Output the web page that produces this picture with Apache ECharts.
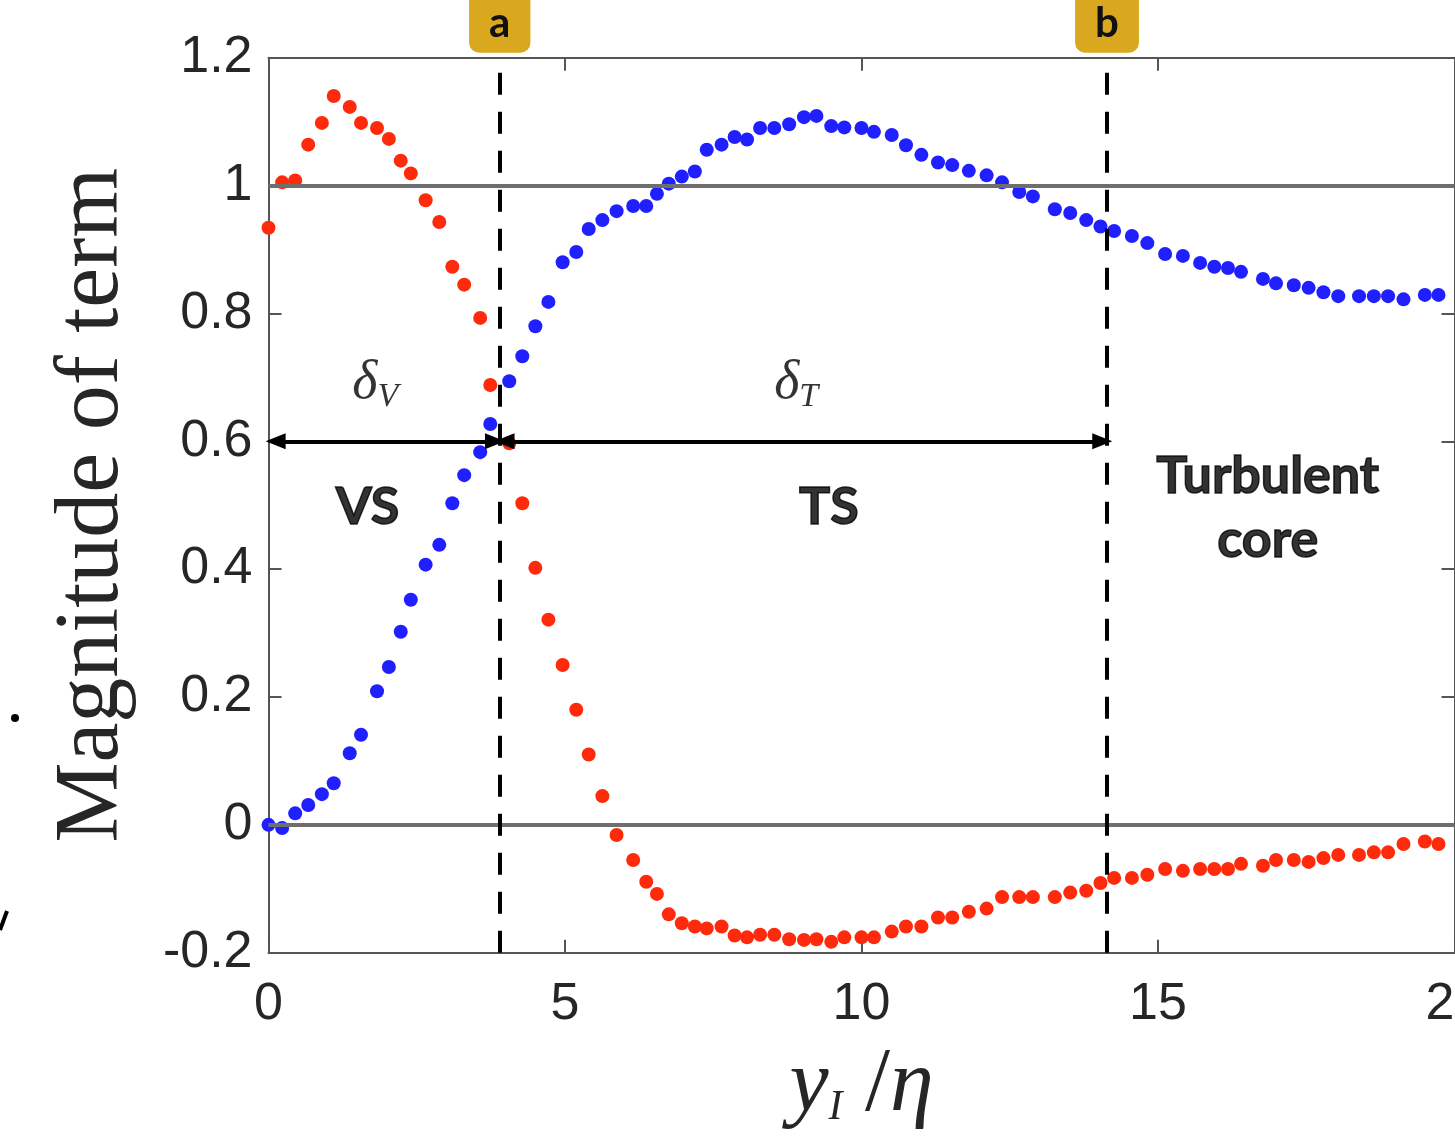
<!DOCTYPE html>
<html>
<head>
<meta charset="utf-8">
<title>Magnitude of term</title>
<script src="https://cdn.jsdelivr.net/npm/echarts@6/dist/echarts.min.js"></script>
<style>
  html, body { margin: 0; padding: 0; background: #fff; }
  #chart { width: 1455px; height: 1140px; }
</style>
</head>
<body>
<div id="chart"></div>
<script>
// sample positions y_I / eta (shared by both series)
const yPos = [0.00, 0.23, 0.45, 0.67, 0.90, 1.10, 1.37, 1.56, 1.83, 2.03,
  2.23, 2.40, 2.65, 2.88, 3.10, 3.30, 3.57, 3.74, 4.06, 4.28,
  4.50, 4.72, 4.96, 5.19, 5.40, 5.63, 5.87, 6.15, 6.37, 6.55,
  6.75, 6.97, 7.19, 7.39, 7.64, 7.86, 8.07, 8.29, 8.53, 8.78,
  9.03, 9.24, 9.49, 9.71, 10.00, 10.21, 10.51, 10.75, 11.01, 11.29,
  11.53, 11.81, 12.11, 12.37, 12.66, 12.89, 13.26, 13.52, 13.79, 14.03,
  14.26, 14.56, 14.82, 15.12, 15.42, 15.71, 15.95, 16.18, 16.40, 16.77,
  16.99, 17.29, 17.54, 17.79, 18.04, 18.39, 18.64, 18.88, 19.14, 19.50, 19.73]

// blue dots
const blueTerm = [0.00, -0.005, 0.018, 0.031, 0.048, 0.065, 0.112, 0.141, 0.209, 0.247,
  0.302, 0.352, 0.407, 0.438, 0.503, 0.547, 0.583, 0.627, 0.694, 0.733,
  0.780, 0.818, 0.880, 0.896, 0.932, 0.946, 0.960, 0.968, 0.968, 0.987,
  1.003, 1.014, 1.022, 1.056, 1.064, 1.076, 1.072, 1.090, 1.090, 1.096,
  1.107, 1.109, 1.093, 1.091, 1.090, 1.084, 1.079, 1.063, 1.048, 1.036,
  1.032, 1.023, 1.016, 1.005, 0.990, 0.983, 0.963, 0.957, 0.946, 0.936,
  0.929, 0.921, 0.910, 0.893, 0.890, 0.879, 0.873, 0.871, 0.865, 0.854,
  0.847, 0.844, 0.840, 0.833, 0.827, 0.827, 0.827, 0.827, 0.822, 0.829, 0.829]

// red dots
const redTerm = [0.934, 1.005, 1.008, 1.064, 1.098, 1.140, 1.123, 1.098, 1.090, 1.073,
  1.039, 1.019, 0.977, 0.943, 0.873, 0.845, 0.793, 0.688, 0.597, 0.503,
  0.402, 0.321, 0.250, 0.180, 0.110, 0.045, -0.016, -0.055, -0.089, -0.108,
  -0.140, -0.154, -0.159, -0.162, -0.159, -0.173, -0.176, -0.172, -0.172, -0.179,
  -0.180, -0.179, -0.183, -0.176, -0.176, -0.176, -0.167, -0.159, -0.159, -0.145,
  -0.145, -0.136, -0.131, -0.113, -0.113, -0.113, -0.113, -0.106, -0.103, -0.091,
  -0.083, -0.083, -0.078, -0.069, -0.072, -0.069, -0.069, -0.069, -0.061, -0.064,
  -0.055, -0.055, -0.058, -0.052, -0.047, -0.047, -0.043, -0.043, -0.030, -0.026, -0.030]

// region boundaries (a, b) and horizontal reference levels
const boundaryX = [3.9, 14.14]
const boundaryTags = ['a', 'b']
const refLevels = [0, 1]
const arrowLevel = 0.6

// axis ticks
const xTicks = [0, 20, 5]     // min, max, step
const yTicks = [-0.2, 1.2, 0.2]

const chart = echarts.init(document.getElementById('chart'))

const tickFont = {
  fontFamily: 'Liberation Sans, Arial, sans-serif',
  fontSize: 52,
  color: '#262626'
}
const boxLine = { onZero: false, lineStyle: { color: '#555', width: 2 } }
const inTick = { show: true, inside: true, length: 13, lineStyle: { color: '#555', width: 2 } }
const bold = {
  fontFamily: 'Lato, Open Sans, sans-serif', fontWeight: 'bold', fontSize: 52,
  color: '#000', textBorderColor: '#000', textBorderWidth: 1.5, lineHeight: 64
}
const deltaRich = {
  d: { fontFamily: 'Liberation Serif, serif', fontStyle: 'italic', fontSize: 54, color: '#000', lineHeight: 60 },
  s: { fontFamily: 'Liberation Serif, serif', fontStyle: 'italic', fontSize: 34, color: '#000', verticalAlign: 'bottom', lineHeight: 34 }
}

// text annotations placed in data coordinates
const notes = [
  { value: [1.8, 0.69], text: '{d|δ}{s|V}', rich: deltaRich },
  { value: [8.9, 0.69], text: '{d|δ}{s|T}', rich: deltaRich },
  { value: [1.67, 0.497], text: 'VS', style: bold },
  { value: [9.45, 0.497], text: 'TS', style: bold },
  { value: [16.85, 0.495], text: 'Turbulent\ncore', style: bold }
]

const option = {
  backgroundColor: '#fff',
  animation: false,
  grid: {
    left: 268.5, right: 0.5, top: 57.7, bottom: 187.3,
    containLabel: false, outerBoundsMode: 'none'
  },
  xAxis: [{
    type: 'value', min: xTicks[0], max: xTicks[1], interval: xTicks[2],
    axisLine: boxLine, axisTick: inTick, splitLine: { show: false },
    axisLabel: Object.assign({ margin: 26 }, tickFont),
    name: '{v|y}{s|I}{n| /}{v|η}',
    nameLocation: 'middle', nameGap: 92,
    nameTextStyle: {
      rich: {
        v: { fontFamily: 'Liberation Serif, serif', fontStyle: 'italic', fontSize: 88, color: '#262626', lineHeight: 84 },
        s: { fontFamily: 'Liberation Serif, serif', fontStyle: 'italic', fontSize: 42, color: '#262626', verticalAlign: 'bottom', lineHeight: 52 },
        n: { fontFamily: 'Liberation Serif, serif', fontSize: 90, color: '#262626', lineHeight: 84 }
      }
    }
  }, {
    type: 'value', position: 'top', min: xTicks[0], max: xTicks[1], interval: xTicks[2],
    axisLine: boxLine, axisTick: inTick, axisLabel: { show: false }, splitLine: { show: false }
  }],
  yAxis: [{
    type: 'value', min: yTicks[0], max: yTicks[1], interval: yTicks[2],
    axisLine: boxLine, axisTick: inTick, splitLine: { show: false },
    axisLabel: Object.assign({ margin: 16 }, tickFont),
    name: 'Magnitude of term', nameLocation: 'middle', nameGap: 130,
    nameTextStyle: { fontFamily: 'Liberation Serif, serif', fontSize: 90, color: '#262626' }
  }, {
    type: 'value', position: 'right', min: yTicks[0], max: yTicks[1], interval: yTicks[2],
    axisLine: boxLine, axisTick: inTick, axisLabel: { show: false }, splitLine: { show: false }
  }],
  series: [
    {
      // gray reference lines at 0 and 1
      type: 'line', data: [], z: 1, silent: true,
      markLine: {
        silent: true, symbol: 'none', animation: false,
        label: { show: false },
        lineStyle: { color: '#6e6e6e', width: 4, type: 'solid' },
        data: refLevels.map(v => ({ yAxis: v }))
      }
    },
    {
      name: 'red', type: 'scatter', z: 3,
      symbolSize: 14, itemStyle: { color: '#ff2a0c', opacity: 1 },
      data: yPos.map((x, i) => [x, redTerm[i]])
    },
    {
      name: 'blue', type: 'scatter', z: 4,
      symbolSize: 14, itemStyle: { color: '#1f1fff', opacity: 1 },
      data: yPos.map((x, i) => [x, blueTerm[i]])
    },
    {
      // dashed boundaries with tag boxes
      type: 'line', data: [], z: 6, silent: true,
      markLine: {
        silent: true, symbol: 'none', animation: false,
        lineStyle: { color: '#000', width: 4, type: [22, 17] },
        data: boundaryX.map((x, i) => ({
          xAxis: x,
          label: {
            show: true, position: 'end', distance: 5, formatter: boundaryTags[i],
            fontFamily: 'Lato, Open Sans, sans-serif', fontSize: 42, fontWeight: 'bold',
            color: '#111', backgroundColor: '#d9a81f', borderRadius: 10,
            padding: [14, 20, 8, 20], lineHeight: 42
          }
        }))
      }
    },
    {
      // double arrows for delta_V and delta_T
      type: 'line', data: [], z: 7, silent: true,
      markLine: {
        silent: true, symbol: ['triangle', 'triangle'], symbolSize: [16, 20], animation: false,
        label: { show: false },
        lineStyle: { color: '#000', width: 4, type: 'solid' },
        data: [
          [{ coord: [0.12, arrowLevel] }, { coord: [boundaryX[0] - 0.08, arrowLevel] }],
          [{ coord: [boundaryX[0] + 0.08, arrowLevel] }, { coord: [boundaryX[1] - 0.08, arrowLevel] }]
        ]
      }
    },
    {
      type: 'scatter', z: 8, silent: true, symbolSize: 0,
      data: notes.map(n => ({
        value: n.value,
        label: Object.assign({
          show: true, position: 'inside', formatter: n.text, align: 'center'
        }, n.style || {}, n.rich ? { rich: n.rich } : {})
      }))
    }
  ],
  graphic: [
    // fragments of the neighbouring panel cut at the left edge
    { type: 'circle', shape: { cx: 15, cy: 718, r: 4 }, style: { fill: '#000' } },
    { type: 'line', shape: { x1: 0, y1: 930, x2: 7, y2: 911 }, style: { stroke: '#000', lineWidth: 4 } }
  ]
}

chart.setOption(option)
</script>
</body>
</html>
